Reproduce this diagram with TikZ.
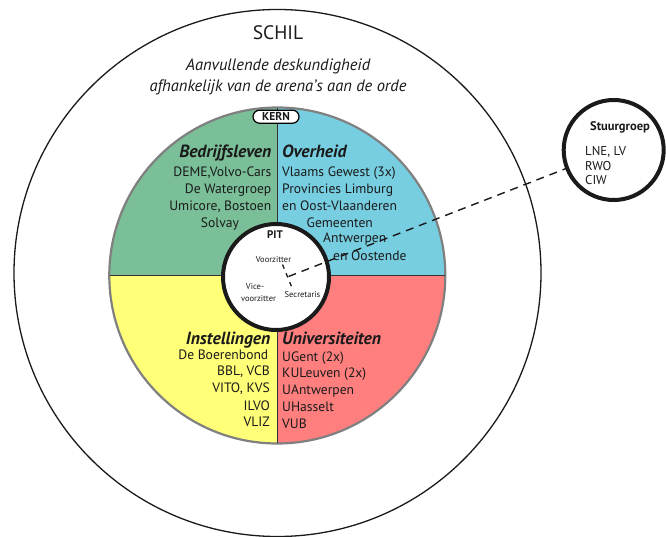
\documentclass[tikz,border=0pt]{standalone}
\usepackage{fontspec}
\setmainfont{PT Sans}
\definecolor{qgreen}{HTML}{7ABF97}
\definecolor{qblue}{HTML}{77CEE0}
\definecolor{qyellow}{HTML}{FFFF78}
\definecolor{qred}{HTML}{FF7F7F}
\definecolor{ink}{HTML}{1A1A1A}
\begin{document}
\begin{tikzpicture}[x=1pt,y=-1pt,
  body/.style={font=\fontsize{13.6}{16}\selectfont, inner sep=0pt, text=ink},
  head/.style={font=\fontsize{17.6}{20}\selectfont\bfseries\itshape, inner sep=0pt, text=ink},
  tiny/.style={font=\fontsize{8.5}{10}\selectfont, inner sep=0pt, text=ink},
  sgtext/.style={font=\fontsize{12.8}{14}\selectfont, text=ink, inner sep=0pt, anchor=base west},
  dashline/.style={dash pattern=on 8pt off 6pt, line width=1.4pt, ink},
  shortdash/.style={dash pattern=on 4.5pt off 5pt, line width=1.3pt, ink},
]
\useasboundingbox (0,0) rectangle (666,537);
\fill[white] (0,0) rectangle (666,537);
% outer shell
\draw[line width=1.3pt, ink] (277.5,273) circle[radius=263.5pt];
% kern disc
\coordinate (C) at (277.3,275.5);
\begin{scope}
\clip (C) circle[radius=168pt];
\fill[qgreen] (C) rectangle ++(-175,-175);
\fill[qblue] (C) rectangle ++(175,-175);
\fill[qyellow] (C) rectangle ++(-175,175);
\fill[qred] (C) rectangle ++(175,175);
\end{scope}
\draw[gray, line width=2.2pt] (C) circle[radius=168pt];
\draw[line width=1.6pt, black!80] (277.3,108) -- (277.3,443);
\draw[line width=1.6pt, black!80] (110,275.5) -- (445,275.5);
% pit
\draw[line width=4pt, ink, fill=white] (276,277) circle[radius=53pt];
% title
\node[font=\fontsize{19.5}{22}\selectfont, text=ink, inner sep=0pt, anchor=base] (schil) at (278,40) {SCHIL};
\node[font=\fontsize{16.5}{19}\selectfont\itshape, text=ink, inner sep=0pt, anchor=base] (t1) at (278,70.5) {Aanvullende deskundigheid};
\node[font=\fontsize{16.5}{19}\selectfont\itshape, text=ink, inner sep=0pt, anchor=base] (t2) at (278,91.5) {afhankelijk van de arena’s aan de orde};
% kern label
\node[draw, line width=1.2pt, fill=white, rounded corners=6.5pt, minimum width=46pt, minimum height=13pt, inner sep=0pt, font=\fontsize{11.5}{12}\selectfont\bfseries, text=ink] (kern) at (276,116.7) {KERN};
% Bedrijfsleven
\node[head, anchor=base east] (bh) at (271.5,158) {Bedrijfsleven};
\node[body, anchor=base east] (b1) at (271.5,176.5) {DEME,Volvo-Cars};
\node[body, anchor=base east] (b2) at (271.5,194) {De Watergroep};
\node[body, anchor=base east] (b3) at (271.5,211) {Umicore, Bostoen};
\node[body, anchor=base] (b4) at (220,228) {Solvay};
% Overheid
\node[head, anchor=base west] (oh) at (282,158) {Overheid};
\node[body, anchor=base west] (o1) at (282,176.5) {Vlaams Gewest (3x)};
\node[body, anchor=base west] (o2) at (282,194) {Provincies Limburg};
\node[body, anchor=base west] (o3) at (282,211) {en Oost-Vlaanderen};
\node[body, anchor=base west] (o4) at (306.5,228) {Gemeenten};
\node[body, anchor=base west] (o5) at (323,242.5) {Antwerpen};
\node[body, anchor=base west] (o6) at (333,260) {en Oostende};
% Instellingen
\node[head, anchor=base east] (ih) at (270.5,344.2) {Instellingen};
\node[body, anchor=base east] (i1) at (268.5,359.5) {De Boerenbond};
\node[body, anchor=base east] (i2) at (270,375.5) {BBL, VCB};
\node[body, anchor=base east] (i3) at (270,392) {VITO, KVS};
\node[body, anchor=base east] (i4) at (270,410) {ILVO};
\node[body, anchor=base east] (i5) at (270,426.7) {VLIZ};
% Universiteiten
\node[head, anchor=base west] (uh) at (282,344.2) {Universiteiten};
\node[body, anchor=base west] (u1) at (282,361) {UGent (2x)};
\node[body, anchor=base west] (u2) at (282,377.7) {KULeuven (2x)};
\node[body, anchor=base west] (u3) at (282,394) {UAntwerpen};
\node[body, anchor=base west] (u4) at (282,411.7) {UHasselt};
\node[body, anchor=base west] (u5) at (282,428.3) {VUB};
% PIT texts
\node[font=\fontsize{11}{12}\selectfont\bfseries, text=ink, inner sep=0pt, anchor=base] (pit) at (275,239) {PIT};
\node[tiny, anchor=base] (vz) at (273.5,262) {Voorzitter};
\node[tiny, anchor=base] (vv) at (255,289.5) {Vice-};
\node[tiny, anchor=base] (vv2) at (258.5,301) {voorzitter};
\node[tiny, anchor=base] (sec) at (302.5,297) {Secretaris};
% stuurgroep
\node[circle, draw, line width=4pt, ink, minimum size=100pt, inner sep=0pt] (stuur) at (613.7,150) {};
\node[font=\fontsize{12.5}{14}\selectfont\bfseries, text=ink, inner sep=0pt, anchor=base] (sg) at (620,131) {Stuurgroep};
\node[sgtext] (s1) at (585,156) {LNE, LV};
\node[sgtext] (s2) at (585,171) {RWO};
\node[sgtext] (s3) at (585,185) {CIW};
% connectors
\coordinate (junc) at (288.5,276.5);
\coordinate (vtop) at (282.5,264.5);
\coordinate (vbot) at (292.5,289);
\draw[shortdash] (vtop) -- (vbot);
\draw[dashline] (junc) -- (stuur);
\end{tikzpicture}
\end{document}
